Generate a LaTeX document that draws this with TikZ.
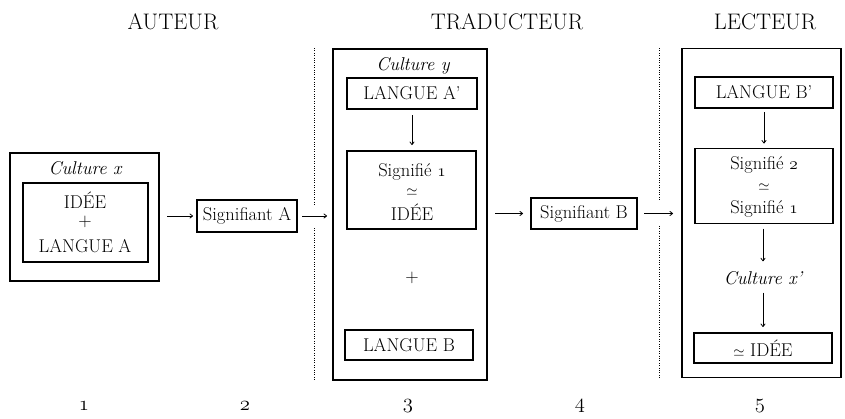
\documentclass[tikz,border=0pt]{standalone}
\usetikzlibrary{arrows.meta}
\newcommand{\osn}[1]{$\mathnormal{#1}$}
\newcommand{\approxsign}{{\fontsize{15}{15}\selectfont$\simeq$}}
\begin{document}
\begin{tikzpicture}[x=1pt,y=-1pt,
  every node/.style={inner sep=0pt, outer sep=0pt},
  head/.style={font=\fontsize{22.5}{26}\selectfont},
  txt/.style={font=\fontsize{18.5}{21}\selectfont},
  numtxt/.style={font=\fontsize{21}{24}\selectfont},
  itxt/.style={font=\fontsize{18.5}{21}\selectfont\itshape},
  outerbox/.style={draw, line width=1.4pt},
  innerbox/.style={draw, line width=1.4pt, font=\fontsize{18.5}{21}\selectfont},
  arr/.style={-{To[length=3.5pt,width=5pt]}, line width=0.8pt},
  dots/.style={line width=0.8pt, dash pattern=on 0.8pt off 1.6pt},
]
\useasboundingbox (0,0) rectangle (845,418);

% column headings
\node[head] (hA) at (173,22) {AUTEUR};
\node[head] (hT) at (507,22) {TRADUCTEUR};
\node[head] (hL) at (765,22) {LECTEUR};

% stage 1
\node[outerbox, minimum width=149pt, minimum height=128pt] (c1) at (84.5,217) {};
\node[itxt] (cx) at (85,168) {Culture x};
\node[outerbox, minimum width=125pt, minimum height=79pt] (i1) at (85.5,222.5) {};
\node[txt] (id1) at (85,200) {IDÉE};
\node[txt] (pl1) at (85,222) {+};
\node[txt] (lA) at (85,246) {LANGUE A};

% stage 2
\node[innerbox, minimum width=100pt, minimum height=32pt] (sa) at (247,216) {Signifiant A};

% stage 3
\node[outerbox, minimum width=154pt, minimum height=331pt] (c3) at (410,214.5) {};
\node[itxt] (cy) at (413,66) {Culture y};
\node[innerbox, minimum width=130pt, minimum height=31pt] (la) at (412,93.5) {LANGUE A’};
\node[outerbox, minimum width=129pt, minimum height=78pt] (s1) at (411.5,190) {};
\node[txt] (s1a) at (412,172) {Signifié \osn{1}};
\node[txt] (s1b) at (412,192) {\approxsign};
\node[txt] (s1c) at (412,212) {IDÉE};
\node[txt] (pl3) at (412,278) {+};
\node[innerbox, minimum width=128pt, minimum height=30pt] (lb) at (409,345) {LANGUE B};

% stage 4
\node[innerbox, minimum width=106pt, minimum height=31pt] (sb) at (584,213.5) {Signifiant B};

% stage 5
\node[outerbox, minimum width=159pt, minimum height=329pt] (c5) at (761.5,213) {};
\node[innerbox, minimum width=138pt, minimum height=31pt] (lbp) at (764,92.5) {LANGUE B’};
\node[outerbox, minimum width=138pt, minimum height=75pt] (s2) at (764,186) {};
\node[txt] (s2a) at (764,165) {Signifié \osn{2}};
\node[txt] (s2b) at (764,187) {\approxsign};
\node[txt] (s2c) at (764,209) {Signifié \osn{1}};
\node[itxt] (cxp) at (763,278) {Culture x’};
\node[innerbox, minimum width=138pt, minimum height=30pt] (idp) at (763,348) {\approxsign\ IDÉE};

% stage numbers
\node[numtxt] (n1) at (84,406) {\osn{1}};
\node[numtxt] (n2) at (245,406) {\osn{2}};
\node[numtxt] (n3) at (408,406) {\osn{3}};
\node[numtxt] (n4) at (580,406) {\osn{4}};
\node[numtxt] (n5) at (760,406) {\osn{5}};

% separators between the roles
\coordinate (d1a) at (314,48);
\coordinate (d1b) at (314,205);
\coordinate (d1c) at (314,228);
\coordinate (d1d) at (314,380);
\coordinate (d2a) at (659,48);
\coordinate (d2b) at (659,201);
\coordinate (d2c) at (659,226);
\coordinate (d2d) at (659,378);
\draw[dots] (d1a) -- (d1b);
\draw[dots] (d1c) -- (d1d);
\draw[dots] (d2a) -- (d2b);
\draw[dots] (d2c) -- (d2d);

% horizontal flow
\draw[arr, shorten <=8pt, shorten >=4pt] (c1.east |- sa.west) -- (sa.west);
\draw[arr, shorten <=5pt, shorten >=6pt] (sa.east) -- (sa.east -| c3.west);
\draw[arr, shorten <=8pt, shorten >=8pt] (c3.east |- sb.west) -- (sb.west);
\draw[arr, shorten <=7pt, shorten >=9pt] (sb.east) -- (sb.east -| c5.west);

% vertical flow inside the boxes
\draw[arr, shorten <=6pt, shorten >=6pt] (la.south) -- (s1.north -| la.south);
\draw[arr, shorten <=4pt, shorten >=5pt] (lbp.south) -- (s2.north -| lbp.south);
\draw[arr, shorten <=5pt, shorten >=10pt] (s2.south -| cxp.north) -- (cxp.north);
\draw[arr, shorten <=8pt, shorten >=6pt] (cxp.south) -- (idp.north -| cxp.south);
\end{tikzpicture}
\end{document}
